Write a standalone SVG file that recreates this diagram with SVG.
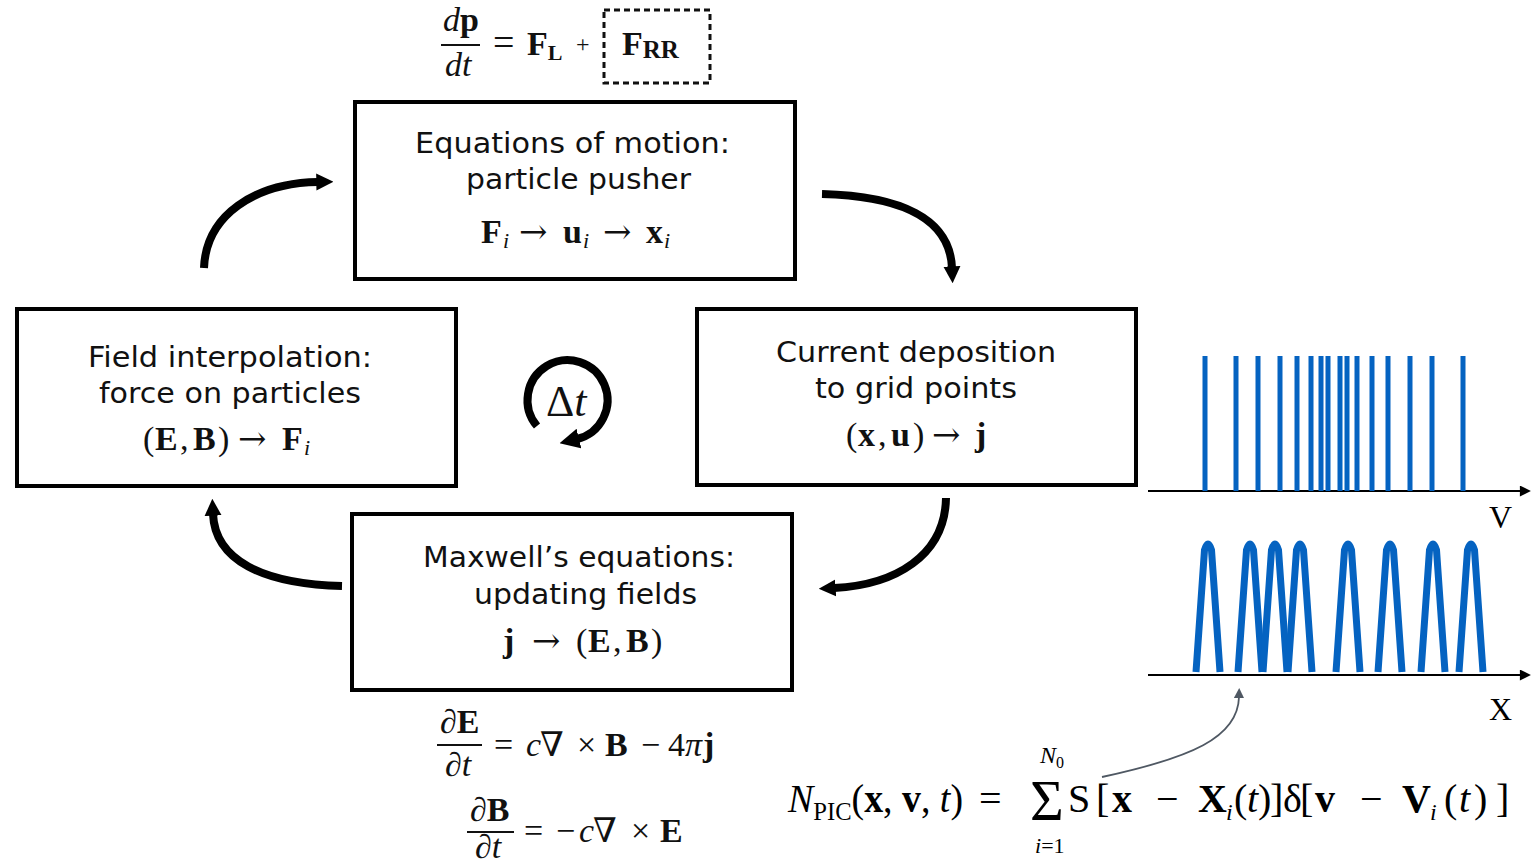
<svg xmlns="http://www.w3.org/2000/svg" width="1537" height="865" viewBox="0 0 1537 865">
<style>
.box{fill:#fff;stroke:#000;stroke-width:4}
.lbl{font-family:"DejaVu Sans",Verdana,sans-serif;font-size:29px;fill:#111;text-anchor:middle}
.m{font-family:"Liberation Serif","DejaVu Serif",serif;font-size:34px;fill:#111}
.mc{text-anchor:middle}
.b{font-weight:bold}
.it{font-style:italic}
.ar{font-family:"DejaVu Serif",serif}
.arr{fill:none;stroke:#000;stroke-width:8}
.bar{fill:#0563C1}
.pk{fill:none;stroke:#0563C1;stroke-width:7;stroke-linejoin:round}
.ax{stroke:#000;stroke-width:2;fill:none}
.f{font-family:"Liberation Serif","DejaVu Serif",serif;font-size:40px;fill:#000}
</style>
<defs>
<marker id="ah" viewBox="0 0 10 10" refX="1" refY="5" markerUnits="userSpaceOnUse" markerWidth="17" markerHeight="19" orient="auto"><path d="M0,0 L10,5 L0,10 z" fill="#000"/></marker>
<marker id="ahdt" viewBox="0 0 10 10" refX="1" refY="5" markerUnits="userSpaceOnUse" markerWidth="20" markerHeight="22" orient="auto"><path d="M0,0 L10,5 L0,10 z" fill="#000"/></marker>
<marker id="ahax" viewBox="0 0 10 10" refX="1" refY="5" markerUnits="userSpaceOnUse" markerWidth="12" markerHeight="11" orient="auto"><path d="M0,0 L10,5 L0,10 z" fill="#000"/></marker>
<marker id="ahg" viewBox="0 0 10 10" refX="1" refY="5" markerUnits="userSpaceOnUse" markerWidth="11" markerHeight="10" orient="auto"><path d="M0,0 L10,5 L0,10 z" fill="#4f5863"/></marker>
</defs>
<rect width="1537" height="865" fill="#fff"/>

<g id="top-equation">
<text class="m" x="443" y="31"><tspan class="it">d</tspan><tspan class="b">p</tspan></text>
<line x1="441" y1="45" x2="480" y2="45" stroke="#111" stroke-width="2"/>
<text class="m it" x="445" y="76">dt</text>
<text class="m" x="493" y="55" style="font-size:38px">=</text>
<text class="m b" x="527" y="55">F<tspan style="font-size:22px" dy="5">L</tspan></text>
<text class="m" x="576" y="52" style="font-size:24px">+</text>
<rect x="604" y="10" width="106" height="73" fill="none" stroke="#111" stroke-width="3" stroke-dasharray="6 4"/>
<text class="m b" x="622" y="55">F<tspan style="font-size:25px" dy="3">RR</tspan></text>
</g>

<g id="node-motion">
<rect class="box" x="355" y="102" width="440" height="177"/>
<text class="lbl" x="572.5" y="153" textLength="315" lengthAdjust="spacingAndGlyphs">Equations of motion:</text>
<text class="lbl" x="578.5" y="189" textLength="225" lengthAdjust="spacingAndGlyphs">particle pusher</text>
<text class="m" y="243"><tspan x="481" class="b">F</tspan><tspan x="503" class="it" style="font-size:22px" dy="5">i</tspan><tspan x="519" class="ar" dy="-5">→</tspan><tspan x="563" class="b">u</tspan><tspan x="583" class="it" style="font-size:22px" dy="5">i</tspan><tspan x="603" class="ar" dy="-5">→</tspan><tspan x="646" class="b">x</tspan><tspan x="664" class="it" style="font-size:22px" dy="5">i</tspan></text>
</g>

<g id="node-field">
<rect class="box" x="17" y="309" width="439" height="177"/>
<text class="lbl" x="230" y="367" textLength="284" lengthAdjust="spacingAndGlyphs">Field interpolation:</text>
<text class="lbl" x="230" y="403" textLength="262" lengthAdjust="spacingAndGlyphs">force on particles</text>
<text class="m" y="450"><tspan x="143">(</tspan><tspan x="155" class="b">E</tspan><tspan x="180">,</tspan><tspan x="193" class="b">B</tspan><tspan x="218">)</tspan><tspan x="238" class="ar">→</tspan><tspan x="282" class="b">F</tspan><tspan x="304" class="it" style="font-size:22px" dy="5">i</tspan></text>
</g>

<g id="node-current">
<rect class="box" x="697" y="309" width="439" height="176"/>
<text class="lbl" x="916" y="362" textLength="280" lengthAdjust="spacingAndGlyphs">Current deposition</text>
<text class="lbl" x="916" y="398" textLength="202" lengthAdjust="spacingAndGlyphs">to grid points</text>
<text class="m" y="446"><tspan x="846">(</tspan><tspan x="858" class="b">x</tspan><tspan x="878">,</tspan><tspan x="891" class="b">u</tspan><tspan x="913">)</tspan><tspan x="932" class="ar">→</tspan><tspan x="975" class="b">j</tspan></text>
</g>

<g id="node-maxwell">
<rect class="box" x="352" y="514" width="440" height="176"/>
<text class="lbl" x="579" y="567" textLength="312" lengthAdjust="spacingAndGlyphs">Maxwell’s equations:</text>
<text class="lbl" x="585.5" y="604" textLength="223" lengthAdjust="spacingAndGlyphs">updating fields</text>
<text class="m" y="652"><tspan x="503" class="b">j</tspan><tspan x="532" class="ar">→</tspan><tspan x="576">(</tspan><tspan x="588" class="b">E</tspan><tspan x="613">,</tspan><tspan x="626" class="b">B</tspan><tspan x="651">)</tspan></text>
</g>

<g id="dt-icon">
<path class="arr" d="M537,426 A40,40 0 1 1 577,439" marker-end="url(#ahdt)"/>
<text class="m" x="546" y="416" style="font-size:44px">Δ<tspan class="it">t</tspan></text>
</g>

<g id="connectors">
<path class="arr" d="M204,268 C206,215 255,183 318,182" style="marker-end:url(#ah)"/>
<path class="arr" d="M822,194 C900,196 950,218 952,268" style="marker-end:url(#ah)"/>
<path class="arr" d="M946,498 C945,556 895,585 834,588" style="marker-end:url(#ah)"/>
<path class="arr" d="M342,586 C262,584 215,560 213,514" style="marker-end:url(#ah)"/>
<path d="M1102,777 C1190,758 1238,738 1239,697" fill="none" stroke="#4f5863" stroke-width="1.8" style="marker-end:url(#ahg)"/>
</g>

<g id="maxwell-equations">
<text class="m" x="440" y="733"><tspan>∂</tspan><tspan class="b">E</tspan></text>
<line x1="437" y1="745" x2="482" y2="745" stroke="#111" stroke-width="2"/>
<text class="m" x="445" y="776">∂<tspan class="it">t</tspan></text>
<text class="m" y="756"><tspan x="494">=</tspan><tspan x="526" class="it">c</tspan><tspan x="540">∇</tspan><tspan x="577">×</tspan><tspan x="605" class="b">B</tspan><tspan x="641">−</tspan><tspan x="668">4</tspan><tspan x="685" class="it">π</tspan><tspan x="703" class="b">j</tspan></text>
<text class="m" x="470" y="821"><tspan>∂</tspan><tspan class="b">B</tspan></text>
<line x1="467" y1="832" x2="514" y2="832" stroke="#111" stroke-width="2"/>
<text class="m" x="475" y="858">∂<tspan class="it">t</tspan></text>
<text class="m" y="842"><tspan x="524">=</tspan><tspan x="556">−</tspan><tspan x="579" class="it">c</tspan><tspan x="593">∇</tspan><tspan x="631">×</tspan><tspan x="660" class="b">E</tspan></text>
</g>

<g id="plot-v">
<line class="ax" x1="1148" y1="491" x2="1521" y2="491" style="marker-end:url(#ahax)"/>
<rect class="bar" x="1202.5" y="356" width="5" height="135"/>
<rect class="bar" x="1233.5" y="356" width="5" height="135"/>
<rect class="bar" x="1255.5" y="356" width="5" height="135"/>
<rect class="bar" x="1277.5" y="356" width="5" height="135"/>
<rect class="bar" x="1294.5" y="356" width="5" height="135"/>
<rect class="bar" x="1308.5" y="356" width="5" height="135"/>
<rect class="bar" x="1318.5" y="356" width="5" height="135"/>
<rect class="bar" x="1325.5" y="356" width="5" height="135"/>
<rect class="bar" x="1337.5" y="356" width="5" height="135"/>
<rect class="bar" x="1344.5" y="356" width="5" height="135"/>
<rect class="bar" x="1354.5" y="356" width="5" height="135"/>
<rect class="bar" x="1369.5" y="356" width="5" height="135"/>
<rect class="bar" x="1385.5" y="356" width="5" height="135"/>
<rect class="bar" x="1407.5" y="356" width="5" height="135"/>
<rect class="bar" x="1429.5" y="356" width="5" height="135"/>
<rect class="bar" x="1460.5" y="356" width="5" height="135"/>
<text class="f" x="1489" y="528" style="font-size:32px">V</text>
</g>

<g id="plot-x">
<line class="ax" x1="1148" y1="675" x2="1521" y2="675" style="marker-end:url(#ahax)"/>
<path class="pk" d="M1196,672 L1204.5,550 Q1208,538 1211.5,550 L1220,672"/>
<path class="pk" d="M1238,672 L1246.5,550 Q1250,538 1253.5,550 L1262,672"/>
<path class="pk" d="M1263,672 L1271.5,550 Q1275,538 1278.5,550 L1287,672"/>
<path class="pk" d="M1288,672 L1296.5,550 Q1300,538 1303.5,550 L1312,672"/>
<path class="pk" d="M1336,672 L1344.5,550 Q1348,538 1351.5,550 L1360,672"/>
<path class="pk" d="M1378,672 L1386.5,550 Q1390,538 1393.5,550 L1402,672"/>
<path class="pk" d="M1421,672 L1429.5,550 Q1433,538 1436.5,550 L1445,672"/>
<path class="pk" d="M1459,672 L1467.5,550 Q1471,538 1474.5,550 L1483,672"/>
<text class="f" x="1489" y="720" style="font-size:32px">X</text>
</g>

<g id="formula">
<text class="f" x="788" y="812" textLength="175" lengthAdjust="spacingAndGlyphs"><tspan class="it">N</tspan><tspan style="font-size:26px" dy="8">PIC</tspan><tspan dy="-8">(</tspan><tspan class="b">x</tspan>, <tspan class="b">v</tspan>, <tspan class="it">t</tspan>)</text>
<text class="f" x="979" y="812">=</text>
<text class="f" x="1030" y="820" style="font-size:58px">Σ</text>
<text class="f it" x="1040" y="763" style="font-size:24px">N<tspan style="font-size:16px;font-style:normal" dy="5">0</tspan></text>
<text class="f" x="1035" y="853" style="font-size:22px"><tspan class="it">i</tspan>=1</text>
<text class="f" x="1068" y="812">S</text>
<text class="f" y="812"><tspan x="1096">[</tspan><tspan x="1112" class="b">x</tspan><tspan x="1156">−</tspan><tspan x="1198" class="b">X</tspan><tspan x="1226" class="it" style="font-size:24px" dy="8">i</tspan><tspan x="1234" dy="-8">(</tspan><tspan x="1247" class="it">t</tspan><tspan x="1258">)</tspan><tspan x="1270">]</tspan><tspan x="1283">δ</tspan><tspan x="1300">[</tspan><tspan x="1315" class="b">v</tspan><tspan x="1360">−</tspan><tspan x="1402" class="b">V</tspan><tspan x="1430" class="it" style="font-size:24px" dy="8">i</tspan><tspan x="1444" dy="-8">(</tspan><tspan x="1459" class="it">t</tspan><tspan x="1474">)</tspan><tspan x="1496">]</tspan></text>
</g>
</svg>
